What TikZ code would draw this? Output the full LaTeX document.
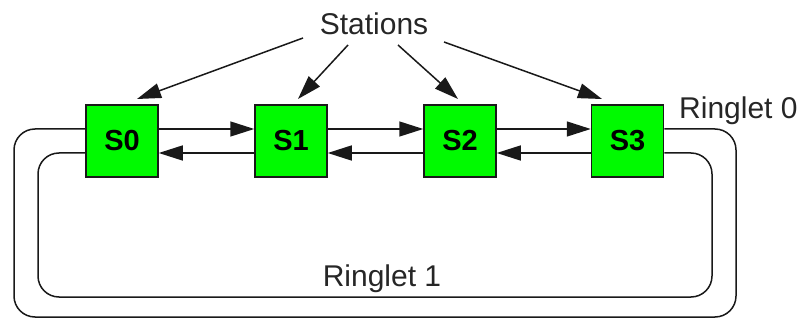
\documentclass[tikz,border=0pt]{standalone}
\usepackage{fontspec}
\setmainfont{Liberation Sans}
\usetikzlibrary{arrows.meta}
\definecolor{boxgreen}{RGB}{0,250,0}
\definecolor{linecol}{RGB}{25,25,25}
\tikzset{
  stationbox/.style={draw=linecol, line width=1.5pt, fill=boxgreen, minimum width=72pt, minimum height=72pt, inner sep=0pt, font=\fontsize{29}{30}\selectfont\bfseries},
  label/.style={inner sep=0pt, font=\fontsize{30}{31}\selectfont, text=black!85},
  conn/.style={draw=linecol, line width=1.5pt, -{Triangle[length=24pt,width=15pt]}},
  ring/.style={draw=linecol, line width=1.5pt, rounded corners=21pt}
}
\begin{document}
\begin{tikzpicture}[x=1pt,y=-1pt]
\useasboundingbox (0,0) rectangle (808,320);
\node[stationbox] (s0) at (122,141) {S0};
\node[stationbox] (s1) at (291,141) {S1};
\node[stationbox] (s2) at (460,141) {S2};
\node[stationbox] (s3) at (627.5,141) {S3};
\node[label, anchor=base] (st) at (374,35) {Stations};
\node[label, anchor=base west] (r0) at (679,119) {Ringlet 0};
\node[label, anchor=base] (r1) at (382,287) {Ringlet 1};
% station arrows
\coordinate (a1) at (303,38);
\coordinate (a2) at (348,45);
\coordinate (a3) at (398,45);
\coordinate (a4) at (444,42);
\coordinate (t1) at (137,99);
\coordinate (t2) at (298,99);
\coordinate (t3) at (458,99);
\coordinate (t4) at (602,99);
\draw[conn] (a1) -- (t1);
\draw[conn] (a2) -- (t2);
\draw[conn] (a3) -- (t3);
\draw[conn] (a4) -- (t4);
% ring 0 (upper lines)
\draw[conn] ([yshift=12pt]s0.east) -- ([yshift=12pt]s1.west);
\draw[conn] ([yshift=12pt]s1.east) -- ([yshift=12pt]s2.west);
\draw[conn] ([yshift=12pt]s2.east) -- ([yshift=12pt]s3.west);
% ring 1 (lower lines)
\draw[conn] ([yshift=-12pt]s1.west) -- ([yshift=-12pt]s0.east);
\draw[conn] ([yshift=-12pt]s2.west) -- ([yshift=-12pt]s1.east);
\draw[conn] ([yshift=-12pt]s3.west) -- ([yshift=-12pt]s2.east);
% wrap-around loops
\draw[ring] ([yshift=12pt]s0.west) -- (14,129) -- (14,317) -- (736,317) -- (736,129) -- ([yshift=12pt]s3.east);
\draw[ring] ([yshift=-12pt]s0.west) -- (38,153) -- (38,297) -- (712,297) -- (712,153) -- ([yshift=-12pt]s3.east);
\end{tikzpicture}
\end{document}
